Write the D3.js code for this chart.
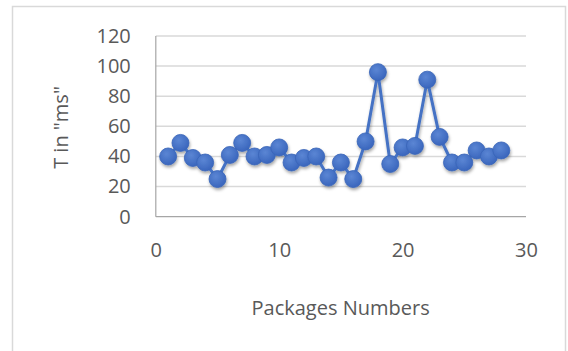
<!DOCTYPE html>
<html>
<head>
<meta charset="utf-8">
<script src="https://cdn.jsdelivr.net/npm/d3@7"></script>
<style>
  html, body { margin: 0; padding: 0; background: #fff; }
  svg { display: block; }
  text { font-family: "Open Sans", "Liberation Sans", sans-serif; fill: #595959; }
</style>
</head>
<body>
<svg id="chart" width="568" height="351"></svg>
<script>
// Package index and measured time per package (ms)
const packageNumbers = [1, 2, 3, 4, 5, 6, 7, 8, 9, 10, 11, 12, 13, 14,
                        15, 16, 17, 18, 19, 20, 21, 22, 23, 24, 25, 26, 27, 28];
const timeMs = [40, 49, 39, 36, 25, 41, 49, 40, 41, 46, 36, 39, 40, 26,
                36, 25, 50, 96, 35, 46, 47, 91, 53, 36, 36, 44, 40, 44];
const xTicks = [0, 10, 20, 30];
const yTicks = [0, 20, 40, 60, 80, 100, 120];
const xTitle = "Packages Numbers";
const yTitle = 'T in "ms"';

const W = 568, H = 351;
const plot = { left: 155.8, right: 526, top: 36, bottom: 216.7 };

const svg = d3.select("#chart");

// Chart frame
svg.append("rect")
  .attr("x", 12.5).attr("y", 6.5)
  .attr("width", 553).attr("height", 360)
  .attr("fill", "#fff")
  .attr("stroke", "#d9d9d9").attr("stroke-width", 1.5);

const x = d3.scaleLinear().domain([0, 30]).range([plot.left, plot.right]);
const y = d3.scaleLinear().domain([0, 120]).range([plot.bottom, plot.top]);

const defs = svg.append("defs");
const grad = defs.append("radialGradient").attr("id", "dot")
  .attr("cx", "40%").attr("cy", "35%").attr("r", "65%");
grad.append("stop").attr("offset", "0%").attr("stop-color", "#5b86d4");
grad.append("stop").attr("offset", "100%").attr("stop-color", "#3a66bd");

const shadow = defs.append("filter").attr("id", "shadow")
  .attr("x", "-20%").attr("y", "-20%").attr("width", "140%").attr("height", "140%");
shadow.append("feDropShadow")
  .attr("dx", 0.8).attr("dy", 2.2).attr("stdDeviation", 1.6)
  .attr("flood-color", "#000").attr("flood-opacity", 0.35);

// Horizontal gridlines
svg.append("g")
  .selectAll("line")
  .data(yTicks.filter(d => d > 0))
  .join("line")
  .attr("x1", plot.left).attr("x2", plot.right)
  .attr("y1", d => y(d)).attr("y2", d => y(d))
  .attr("stroke", "#d9d9d9").attr("stroke-width", 1.5);

// Axis lines
svg.append("line")
  .attr("x1", plot.left).attr("x2", plot.right)
  .attr("y1", plot.bottom).attr("y2", plot.bottom)
  .attr("stroke", "#a6a6a6").attr("stroke-width", 1.2);
svg.append("line")
  .attr("x1", plot.left).attr("x2", plot.left)
  .attr("y1", plot.top).attr("y2", plot.bottom)
  .attr("stroke", "#a6a6a6").attr("stroke-width", 1.2);

// Y axis labels
const yAxis = svg.append("g")
  .attr("transform", `translate(${plot.left},0)`)
  .call(d3.axisLeft(y).tickValues(yTicks).tickSize(0).tickPadding(25));
yAxis.select(".domain").remove();
yAxis.selectAll("text")
  .style("font-family", '"Open Sans", sans-serif')
  .style("font-size", "20px").attr("fill", "#595959");

// X axis labels
const xAxis = svg.append("g")
  .attr("transform", `translate(0,${plot.bottom})`)
  .call(d3.axisBottom(x).tickValues(xTicks).tickSize(0).tickPadding(26));
xAxis.select(".domain").remove();
xAxis.selectAll("text")
  .style("font-family", '"Open Sans", sans-serif')
  .style("font-size", "20px").attr("fill", "#595959");

// Axis titles
svg.append("text")
  .attr("x", 340.6).attr("y", 315)
  .attr("text-anchor", "middle")
  .style("font-size", "20px")
  .text(xTitle);
svg.append("text")
  .attr("transform", "translate(68,127.5) rotate(-90)")
  .attr("text-anchor", "middle")
  .style("font-size", "20px")
  .text(yTitle);

// Series: line with markers
const pts = packageNumbers.map((p, i) => [p, timeMs[i]]);
const series = svg.append("g").attr("filter", "url(#shadow)");
series.append("path")
  .datum(pts)
  .attr("fill", "none")
  .attr("stroke", "#4472c4")
  .attr("stroke-width", 3)
  .attr("stroke-linejoin", "round")
  .attr("d", d3.line().x(d => x(d[0])).y(d => y(d[1])));
series.selectAll("circle")
  .data(pts)
  .join("circle")
  .attr("cx", d => x(d[0]))
  .attr("cy", d => y(d[1]))
  .attr("r", 8.5)
  .attr("fill", "url(#dot)")
  .attr("stroke", "#3864b8")
  .attr("stroke-width", 0.8);
</script>
</body>
</html>
